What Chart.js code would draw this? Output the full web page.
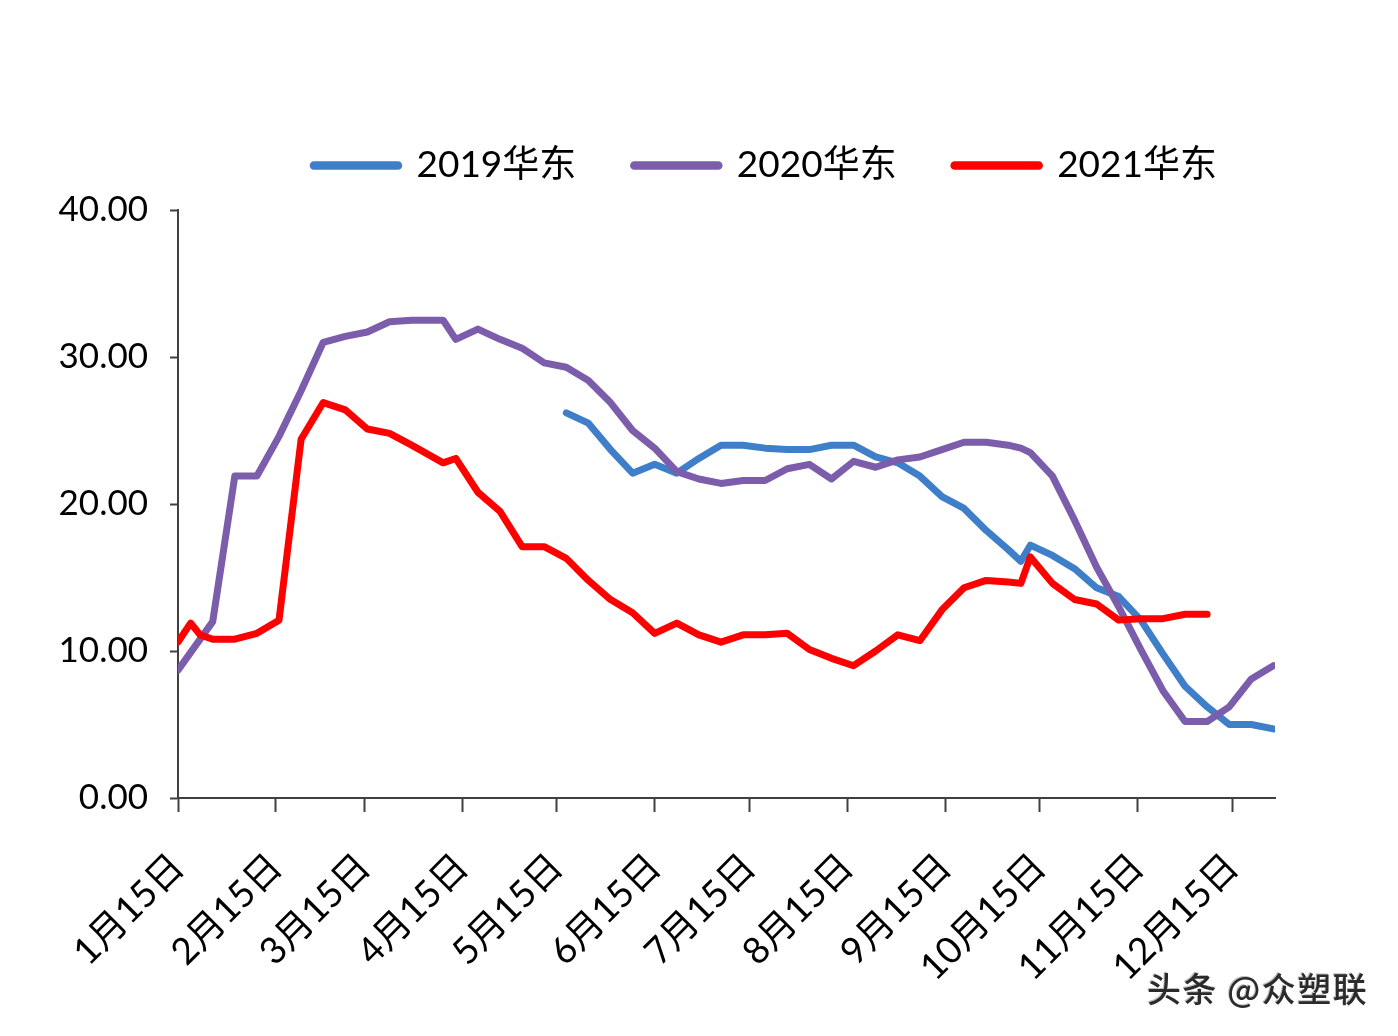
<!DOCTYPE html>
<html>
<head>
<meta charset="utf-8">
<script src="https://cdn.jsdelivr.net/npm/chart.js@4.4.1/dist/chart.umd.min.js"></script>
<style>
  body { margin: 0; background: #fff; }
  #wrap { position: relative; width: 1398px; height: 1036px; }
  #mark {
    position: absolute; left: 1147px; top: 963px;
    font-family: "Noto Sans CJK SC", sans-serif; font-size: 34px; font-weight: 500;
    letter-spacing: 1.5px;
    color: #2b2b2b; text-shadow: 1px 1px 0 #fff, -1px -1px 0 #bbb;
    white-space: nowrap;
  }
</style>
</head>
<body>
<div id="wrap">
  <canvas id="chart" width="1398" height="1036"></canvas>
  <div id="mark">头条 @众塑联</div>
</div>
<script>
// dias contados a partir de 15/jan (eixo de datas)
const days = [0, 4, 7, 11, 18, 25, 32, 39, 46, 53, 60, 67, 74, 84, 88,
  95, 102, 109, 116, 123, 130, 137, 144, 151, 158, 165, 172, 179, 186, 193,
  200, 207, 214, 221, 228, 235, 242, 249, 256, 263, 267, 270, 277, 284, 291,
  298, 305, 312, 319, 326, 333, 340, 347];

const east2019 = [null, null, null, null, null, null, null, null, null, null,
  null, null, null, null, null, null, null, null, null, 26.2, 25.5, 23.7, 22.1,
  22.7, 22.1, 23.1, 24.0, 24.0, 23.8, 23.7, 23.7, 24.0, 24.0, 23.2, 22.8, 21.9,
  20.5, 19.7, 18.2, 16.9, 16.1, 17.2, 16.5, 15.6, 14.3, 13.7, 12.1, 9.8, 7.6,
  6.2, 5.0, 5.0, 4.7];

const east2020 = [8.7, null, null, 12.0, 21.9, 21.9, 24.6, 27.7, 31.0, 31.4,
  31.7, 32.4, 32.5, 32.5, 31.2, 31.9, 31.2, 30.6, 29.6, 29.3, 28.4, 26.9, 25.0,
  23.8, 22.2, 21.7, 21.4, 21.6, 21.6, 22.4, 22.7, 21.7, 22.9, 22.5, 23.0, 23.2,
  23.7, 24.2, 24.2, 24.0, 23.8, 23.5, 21.9, 18.9, 15.7, 13.0, 10.1, 7.3, 5.2,
  5.2, 6.2, 8.1, 9.0];

const east2021 = [10.6, 11.9, 11.1, 10.8, 10.8, 11.2, 12.1, 24.4, 26.9, 26.4,
  25.1, 24.8, 24.0, 22.8, 23.1, 20.8, 19.5, 17.1, 17.1, 16.3, 14.8, 13.5, 12.6,
  11.2, 11.9, 11.1, 10.6, 11.1, 11.1, 11.2, 10.1, 9.5, 9.0, 10.0, 11.1, 10.7,
  12.8, 14.3, 14.8, 14.7, 14.6, 16.4, 14.6, 13.5, 13.2, 12.1, 12.2, 12.2, 12.5,
  12.5, null, null, null];

const tickDays = [0, 31, 59, 90, 120, 151, 181, 212, 243, 273, 304, 334];
const tickLabels = ['1月15日', '2月15日', '3月15日', '4月15日', '5月15日', '6月15日',
  '7月15日', '8月15日', '9月15日', '10月15日', '11月15日', '12月15日'];
const yTicks = [0, 10, 20, 30, 40];

const FONT = 'Lato, "Noto Sans CJK SC", sans-serif';
const AXIS = '#404040';

function pontos(values) {
    return days.map((d, i) => ({ x: d, y: values[i] })).filter(p => p.y !== null);
}

function serie(label, values, color) {
    return {
        label: label,
        data: pontos(values),
        borderColor: color,
        backgroundColor: color,
        borderWidth: 7,
        borderJoinStyle: 'round',
        borderCapStyle: 'round',
        pointRadius: 0,
        pointStyle: 'line',
        tension: 0,
        fill: false
    };
}

// altura fixa da legenda para colocar a área do gráfico no lugar certo
const legendHeight = {
    id: 'legendHeight',
    beforeInit(chart) {
        const fit = chart.legend.fit;
        chart.legend.fit = function () {
            fit.call(this);
            this.height = 121;
        };
    }
};

new Chart(document.getElementById('chart'), {
    type: 'line',
    data: {
        // ordem invertida: a série de 2021 fica por cima, como no Excel
        datasets: [
            serie('2021华东', east2021, '#ff0000'),
            serie('2020华东', east2020, '#7b5dab'),
            serie('2019华东', east2019, '#3f7ec8')
        ]
    },
    plugins: [legendHeight],
    options: {
        responsive: false,
        animation: false,
        layout: { padding: { top: 89, right: 123, left: 0, bottom: 0 } },
        plugins: {
            tooltip: { enabled: false },
            legend: {
                position: 'top',
                align: 'end',
                reverse: true,
                labels: {
                    usePointStyle: true,
                    pointStyle: 'line',
                    pointStyleWidth: 84,
                    padding: 58,
                    color: '#000',
                    font: { family: FONT, size: 37 },
                    generateLabels(chart) {
                        const items = Chart.defaults.plugins.legend.labels.generateLabels(chart);
                        items.forEach(it => { it.lineWidth = 8.5; it.lineCap = 'round'; });
                        return items;
                    }
                }
            }
        },
        scales: {
            x: {
                type: 'linear',
                min: 0,
                max: 347.5,
                afterFit(scale) { scale.height = 238; },
                afterBuildTicks(scale) { scale.ticks = tickDays.map(v => ({ value: v })); },
                grid: { display: true, drawOnChartArea: false, drawTicks: true, tickLength: 14, tickColor: AXIS, tickWidth: 2 },
                border: { display: true, color: AXIS, width: 2 },
                ticks: {
                    autoSkip: false,
                    maxRotation: 45,
                    minRotation: 45,
                    padding: 33,
                    color: '#000',
                    font: { family: FONT, size: 37 },
                    callback: (v) => tickLabels[tickDays.indexOf(v)]
                }
            },
            y: {
                min: 0,
                max: 40,
                afterFit(scale) { scale.width = 178; },
                afterBuildTicks(scale) { scale.ticks = yTicks.map(v => ({ value: v })); },
                grid: { display: true, drawOnChartArea: false, drawTicks: true, tickLength: 8, tickColor: AXIS, tickWidth: 2 },
                border: { display: true, color: AXIS, width: 2 },
                ticks: {
                    padding: 22,
                    color: '#000',
                    font: { family: FONT, size: 35 },
                    callback: (v) => v.toFixed(2)
                }
            }
        }
    }
});
</script>
</body>
</html>
